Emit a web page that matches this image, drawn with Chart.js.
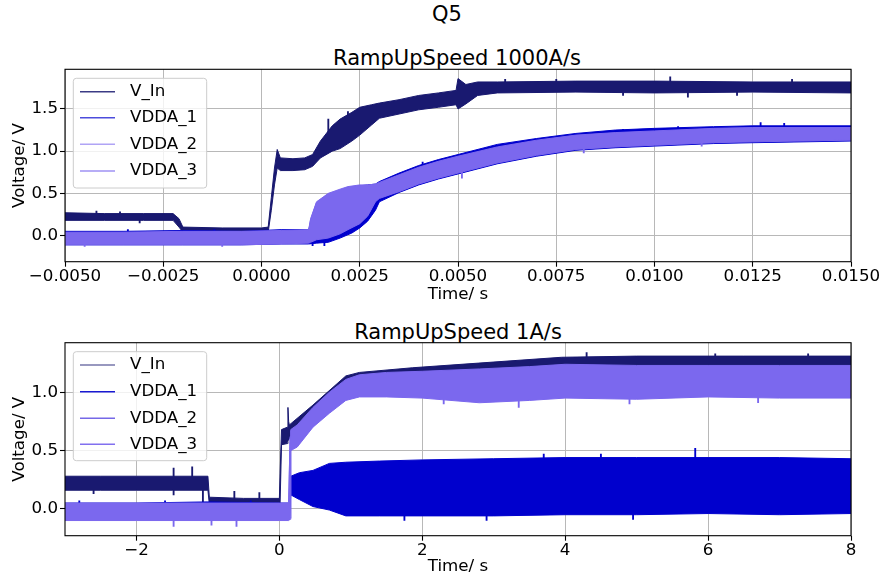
<!DOCTYPE html>
<html>
<head>
<meta charset="utf-8">
<script src="https://cdn.jsdelivr.net/npm/chart.js@4.4.1/dist/chart.umd.min.js"></script>
<style>
  html, body { margin: 0; padding: 0; background: #fff; }
  body { width: 883px; height: 582px; position: relative; overflow: hidden; font-family: 'DejaVu Sans', sans-serif; }
  canvas { position: absolute; left: 0; }
  .ttl { position: absolute; font-size: 21px; line-height: 21px; color: #000; white-space: nowrap; transform: translate(-50%, -50%); }
</style>
</head>
<body>
<div class="ttl" style="left:447px; top:14px;">Q5</div>
<div class="ttl" style="left:457px; top:58px;">RampUpSpeed 1000A/s</div>
<div class="ttl" style="left:458px; top:332px;">RampUpSpeed 1A/s</div>
<canvas id="c1" width="883" height="310" style="top:0px"></canvas>
<canvas id="c2" width="883" height="272" style="top:310px"></canvas>
<script>
// ---------------- DATA ----------------
const seriesNames = ['V_In', 'VDDA_1', 'VDDA_2', 'VDDA_3'];

// Top plot: RampUpSpeed 1000A/s  (time in s, band = lower/upper envelope in V)
const top_vin_t  = [-0.005, -0.004, -0.003, -0.00225, -0.0021, -0.002, -0.001, 0.0, 0.00017, 0.00025, 0.00033, 0.0004, 0.00048, 0.0008, 0.0011, 0.0013, 0.0015, 0.0018, 0.002, 0.0023, 0.0025, 0.0028, 0.003, 0.0035, 0.004, 0.0045, 0.00495, 0.005, 0.0052, 0.0055, 0.006, 0.008, 0.01, 0.0125, 0.015];
const top_vin_lo = [0.18, 0.18, 0.18, 0.18, 0.10, 0.04, 0.04, 0.04, 0.04, 0.30, 0.60, 0.80, 0.77, 0.77, 0.78, 0.82, 0.92, 1.00, 1.03, 1.12, 1.19, 1.31, 1.39, 1.44, 1.49, 1.52, 1.55, 1.50, 1.56, 1.66, 1.69, 1.70, 1.69, 1.70, 1.69];
const top_vin_hi = [0.27, 0.26, 0.26, 0.26, 0.20, 0.10, 0.09, 0.09, 0.10, 0.45, 0.80, 1.02, 0.92, 0.91, 0.92, 0.96, 1.12, 1.30, 1.38, 1.46, 1.52, 1.55, 1.57, 1.61, 1.66, 1.69, 1.72, 1.86, 1.79, 1.82, 1.82, 1.83, 1.83, 1.82, 1.82];
const top_vin_spk = [[-0.0042, 0.24, 0.29], [-0.0031, 0.15, 0.20], [-0.0036, 0.23, 0.28], [0.0017, 1.22, 1.38], [0.0022, 1.30, 1.47], [0.0062, 1.79, 1.85], [0.0075, 1.79, 1.85], [0.0104, 1.76, 1.88], [0.01085, 1.64, 1.72], [0.0121, 1.66, 1.72], [0.0135, 1.78, 1.85], [0.0092, 1.66, 1.71]];

const top_v1_t  = [-0.005, -0.0035, -0.002, -0.0005, 0.0005, 0.0012, 0.0014, 0.0017, 0.002, 0.0023, 0.0025, 0.0027, 0.0029, 0.003, 0.0035, 0.004, 0.0045, 0.005, 0.006, 0.007, 0.008, 0.009, 0.01, 0.0115, 0.0125, 0.015];
const top_v1_lo = [-0.11, -0.11, -0.11, -0.11, -0.10, -0.10, -0.09, -0.08, -0.03, 0.03, 0.09, 0.17, 0.30, 0.40, 0.51, 0.60, 0.67, 0.73, 0.85, 0.94, 1.01, 1.04, 1.06, 1.09, 1.10, 1.12];
const top_v1_hi = [0.05, 0.05, 0.06, 0.05, 0.07, 0.07, 0.35, 0.45, 0.52, 0.57, 0.59, 0.60, 0.61, 0.64, 0.74, 0.83, 0.90, 0.96, 1.08, 1.15, 1.21, 1.25, 1.27, 1.29, 1.30, 1.30];
const top_v1_spk = [[-0.0034, 0.03, 0.07], [-0.0012, 0.03, 0.07], [0.0013, -0.12, -0.05], [0.0016, -0.12, -0.05], [0.0041, 0.80, 0.87], [0.0092, 1.22, 1.26], [0.0106, 1.25, 1.29], [0.0127, 1.28, 1.34], [0.0133, 1.28, 1.33]];

const top_v2_t  = [-0.005, -0.0035, -0.002, -0.0005, 0.0005, 0.0012, 0.00125, 0.0014, 0.0017, 0.002, 0.0022, 0.0025, 0.0027, 0.0029, 0.003, 0.0035, 0.004, 0.0045, 0.005, 0.006, 0.007, 0.008, 0.009, 0.01, 0.0115, 0.0125, 0.015];
const top_v2_lo = [-0.10, -0.10, -0.10, -0.10, -0.09, -0.08, -0.07, -0.04, -0.02, 0.03, 0.08, 0.15, 0.24, 0.41, 0.45, 0.53, 0.62, 0.69, 0.75, 0.87, 0.96, 1.03, 1.06, 1.08, 1.11, 1.12, 1.14];
const top_v2_hi = [0.03, 0.03, 0.04, 0.04, 0.05, 0.06, 0.19, 0.39, 0.49, 0.54, 0.57, 0.59, 0.59, 0.60, 0.62, 0.71, 0.80, 0.87, 0.93, 1.04, 1.12, 1.18, 1.21, 1.23, 1.26, 1.27, 1.27];
const top_v2_spk = [];

const top_v3_t  = [-0.005, -0.0035, -0.002, -0.0005, 0.0005, 0.0012, 0.00125, 0.0014, 0.0017, 0.002, 0.0022, 0.0025, 0.0027, 0.0029, 0.003, 0.0035, 0.004, 0.0045, 0.005, 0.006, 0.007, 0.008, 0.009, 0.01, 0.0115, 0.0125, 0.015];
const top_v3_lo = [-0.11, -0.11, -0.11, -0.11, -0.10, -0.09, -0.08, -0.05, -0.03, 0.02, 0.07, 0.14, 0.23, 0.40, 0.44, 0.52, 0.61, 0.68, 0.74, 0.86, 0.95, 1.02, 1.05, 1.07, 1.10, 1.11, 1.13];
const top_v3_hi = [0.04, 0.04, 0.05, 0.05, 0.06, 0.07, 0.20, 0.40, 0.50, 0.55, 0.58, 0.60, 0.60, 0.61, 0.63, 0.72, 0.81, 0.88, 0.94, 1.05, 1.13, 1.19, 1.22, 1.24, 1.27, 1.28, 1.28];
const top_v3_spk = [[-0.0045, -0.13, -0.09], [-0.001, -0.13, -0.09], [0.0051, 0.68, 0.76], [0.0082, 0.98, 1.04], [0.0112, 1.06, 1.12]];

// Bottom plot: RampUpSpeed 1A/s
const bot_vin_t  = [-3, -2.5, -2, -1.5, -1.0, -0.98, -0.5, 0.0, 0.01, 0.03, 0.11, 0.12, 0.13, 0.14, 0.47, 0.93, 1.12, 1.86, 2.79, 3.95, 5.0, 6.5, 8.0];
const bot_vin_lo = [0.16, 0.16, 0.16, 0.16, 0.16, 0.04, 0.04, 0.04, 0.04, 0.55, 0.56, 0.58, 0.60, 0.60, 0.75, 1.00, 1.06, 1.10, 1.14, 1.18, 1.20, 1.20, 1.20];
const bot_vin_hi = [0.28, 0.28, 0.28, 0.28, 0.28, 0.10, 0.09, 0.09, 0.30, 0.68, 0.70, 0.87, 0.75, 0.72, 0.89, 1.14, 1.17, 1.21, 1.25, 1.30, 1.31, 1.31, 1.31];
const bot_vin_spk = [[-2.6, 0.13, 0.20], [-1.48, 0.12, 0.35], [-1.22, 0.20, 0.36], [-1.07, 0.06, 0.20], [-0.63, 0.07, 0.15], [-0.28, 0.07, 0.14], [4.3, 1.28, 1.34], [6.1, 1.28, 1.33], [7.4, 1.28, 1.33]];

const bot_v1_t  = [-3, -2, -1, 0, 0.14, 0.16, 0.28, 0.47, 0.70, 0.93, 1.4, 2.0, 3.0, 4.0, 5.0, 6.0, 7.0, 8.0];
const bot_v1_lo = [-0.09, -0.09, -0.09, -0.09, -0.09, 0.12, 0.08, 0.02, -0.01, -0.06, -0.06, -0.06, -0.06, -0.05, -0.05, -0.04, -0.05, -0.04];
const bot_v1_hi = [0.05, 0.05, 0.06, 0.05, 0.05, 0.28, 0.31, 0.33, 0.39, 0.40, 0.41, 0.42, 0.43, 0.44, 0.44, 0.44, 0.44, 0.43];
const bot_v1_spk = [[-2.8, 0.03, 0.07], [-1.6, 0.03, 0.07], [-0.4, 0.03, 0.07], [2.9, -0.10, -0.05], [3.7, 0.40, 0.47], [4.5, 0.40, 0.47], [5.82, 0.40, 0.52], [1.75, -0.10, -0.05], [4.95, -0.09, -0.04]];

const bot_v2_t  = [-3, -2, -1, 0, 0.13, 0.15, 0.16, 0.25, 0.47, 0.70, 0.93, 1.12, 1.5, 2.0, 2.8, 3.5, 4.0, 5.0, 6.0, 7.0, 8.0];
const bot_v2_lo = [-0.09, -0.09, -0.09, -0.09, -0.09, -0.08, 0.51, 0.54, 0.71, 0.83, 0.94, 0.97, 0.97, 0.96, 0.92, 0.94, 0.96, 0.95, 0.97, 0.96, 0.96];
const bot_v2_hi = [0.04, 0.04, 0.04, 0.04, 0.04, 0.61, 0.67, 0.71, 0.86, 0.99, 1.10, 1.14, 1.16, 1.17, 1.19, 1.21, 1.23, 1.22, 1.22, 1.22, 1.22];
const bot_v2_spk = [];

const bot_v3_t  = [-3, -2, -1, 0, 0.13, 0.15, 0.16, 0.25, 0.47, 0.70, 0.93, 1.12, 1.5, 2.0, 2.8, 3.5, 4.0, 5.0, 6.0, 7.0, 8.0];
const bot_v3_lo = [-0.10, -0.10, -0.10, -0.10, -0.10, -0.09, 0.50, 0.53, 0.70, 0.82, 0.93, 0.96, 0.96, 0.95, 0.91, 0.93, 0.95, 0.94, 0.96, 0.95, 0.95];
const bot_v3_hi = [0.05, 0.05, 0.05, 0.05, 0.05, 0.62, 0.68, 0.72, 0.87, 1.00, 1.11, 1.15, 1.17, 1.18, 1.20, 1.22, 1.24, 1.23, 1.23, 1.23, 1.23];
const bot_v3_spk = [[-1.48, -0.15, -0.08], [-0.95, -0.14, -0.08], [-0.6, -0.15, -0.08], [2.3, 0.90, 0.96], [3.35, 0.87, 0.95], [4.9, 0.90, 0.96], [6.7, 0.91, 0.97]];

// Axis ticks
const topXTicks  = [-0.005, -0.0025, 0, 0.0025, 0.005, 0.0075, 0.01, 0.0125, 0.015];
const topXLabels = ['\u22120.0050', '\u22120.0025', '0.0000', '0.0025', '0.0050', '0.0075', '0.0100', '0.0125', '0.0150'];
const topYTicks  = [0, 0.5, 1.0, 1.5];
const topYLabels = ['0.0', '0.5', '1.0', '1.5'];
const botXTicks  = [-2, 0, 2, 4, 6, 8];
const botXLabels = ['\u22122', '0', '2', '4', '6', '8'];
const botYTicks  = [0, 0.5, 1.0];
const botYLabels = ['0.0', '0.5', '1.0'];

// ---------------- STYLE ----------------
const bandColors = ['#191970', '#0000cd', '#6e60e6', '#7b68ee'];
const topLegendColors = ['rgba(25,25,112,0.85)', 'rgba(0,0,205,0.7)', 'rgba(123,104,238,0.6)', 'rgba(123,104,238,0.72)'];
const botLegendColors = ['rgba(25,25,112,0.6)', 'rgba(0,0,205,0.9)', 'rgba(110,96,230,0.95)', 'rgba(123,104,238,0.95)'];
const FONT = { family: "'DejaVu Sans', sans-serif", size: 16.7 };

function pts(t, v) { return t.map((x, i) => ({ x: x, y: v[i] })); }

function bandDatasets(list) {
  // list: [[t, lo, hi, spikes], ...] in seriesNames order; earlier series drawn underneath
  const ds = [];
  list.forEach((s, k) => {
    const col = bandColors[k];
    const order = 10 - k;
    ds.push({ label: seriesNames[k] + '_lo', data: pts(s[0], s[1]), borderColor: col, backgroundColor: col,
              borderWidth: 1, pointRadius: 0, fill: false, order: order, tension: 0 });
    ds.push({ label: seriesNames[k], data: pts(s[0], s[2]), borderColor: col, backgroundColor: col,
              borderWidth: 1, pointRadius: 0, fill: '-1', order: order, tension: 0 });
    if (s[3].length) {
      ds.push({ type: 'bar', label: seriesNames[k] + '_spk', data: s[3].map(p => ({ x: p[0], y: [p[1], p[2]] })),
                backgroundColor: col, borderWidth: 0, barThickness: 1.2, grouped: false, order: order });
    }
  });
  return ds;
}

const framePlugin = {
  id: 'frame',
  afterDatasetsDraw(chart) {
    const { ctx, chartArea: a } = chart;
    ctx.save();
    ctx.strokeStyle = '#000';
    ctx.lineWidth = 1.1;
    ctx.strokeRect(a.left, a.top, a.right - a.left, a.bottom - a.top);
    ctx.restore();
  }
};

const boxLegendPlugin = {
  id: 'boxLegend',
  afterDraw(chart, args, o) {
    const ctx = chart.ctx;
    ctx.save();
    const x = o.x0, y = o.y0, w = o.x1 - o.x0, h = o.y1 - o.y0, r = 3;
    ctx.beginPath();
    ctx.moveTo(x + r, y);
    ctx.lineTo(x + w - r, y); ctx.quadraticCurveTo(x + w, y, x + w, y + r);
    ctx.lineTo(x + w, y + h - r); ctx.quadraticCurveTo(x + w, y + h, x + w - r, y + h);
    ctx.lineTo(x + r, y + h); ctx.quadraticCurveTo(x, y + h, x, y + h - r);
    ctx.lineTo(x, y + r); ctx.quadraticCurveTo(x, y, x + r, y);
    ctx.closePath();
    ctx.fillStyle = 'rgba(255,255,255,0.8)';
    ctx.fill();
    ctx.strokeStyle = '#cccccc';
    ctx.lineWidth = 1;
    ctx.stroke();
    ctx.font = FONT.size + "px 'DejaVu Sans', sans-serif";
    ctx.textBaseline = 'middle';
    ctx.textAlign = 'left';
    for (let i = 0; i < o.names.length; i++) {
      const yy = o.rows[i];
      ctx.strokeStyle = o.colors[i];
      ctx.lineWidth = 1.5;
      ctx.beginPath();
      ctx.moveTo(o.lx0, yy); ctx.lineTo(o.lx1, yy);
      ctx.stroke();
      ctx.fillStyle = '#000';
      ctx.fillText(o.names[i], o.tx, yy);
    }
    ctx.restore();
  }
};

function makeChart(id, cfg) {
  const H = document.getElementById(id).height;
  const gridCfg = { color: '#b8b8b8', lineWidth: 1, tickColor: '#000', tickLength: 5, tickWidth: 1.1, drawTicks: true, offset: false };
  return new Chart(document.getElementById(id), {
    type: 'line',
    data: { datasets: bandDatasets(cfg.series) },
    options: {
      responsive: false,
      animation: false,
      events: [],
      layout: { padding: { left: 0, right: 32, top: cfg.areaTop, bottom: 0 } },
      scales: {
        x: {
          type: 'linear', min: cfg.xmin, max: cfg.xmax, offset: false,
          afterBuildTicks: s => { s.ticks = cfg.xTicks.map(v => ({ value: v })); },
          afterFit: s => { s.height = H - cfg.areaBottom; },
          ticks: { callback: (v, i) => cfg.xLabels[i], font: FONT, color: '#000', padding: 0, maxRotation: 0, autoSkip: false },
          grid: gridCfg,
          border: { display: false },
          title: { display: true, text: 'Time/ s', font: FONT, color: '#000', padding: { top: 0, bottom: 5.3 } }
        },
        y: {
          type: 'linear', min: cfg.ymin, max: cfg.ymax, offset: false,
          afterBuildTicks: s => { s.ticks = cfg.yTicks.map(v => ({ value: v })); },
          afterFit: s => { s.width = 65; },
          ticks: { callback: (v, i) => cfg.yLabels[i], font: FONT, color: '#000', padding: 2, autoSkip: false },
          grid: gridCfg,
          border: { display: false },
          title: { display: true, text: 'Voltage/ V', font: FONT, color: '#000', padding: { top: 10, bottom: 0 } }
        }
      },
      plugins: {
        legend: { display: false },
        tooltip: { enabled: false },
        boxLegend: cfg.legend
      }
    },
    plugins: [framePlugin, boxLegendPlugin]
  });
}

makeChart('c1', {
  series: [[top_vin_t, top_vin_lo, top_vin_hi, top_vin_spk], [top_v1_t, top_v1_lo, top_v1_hi, top_v1_spk],
           [top_v2_t, top_v2_lo, top_v2_hi, top_v2_spk], [top_v3_t, top_v3_lo, top_v3_hi, top_v3_spk]],
  xmin: -0.005, xmax: 0.015, ymin: -0.31, ymax: 1.97,
  xTicks: topXTicks, xLabels: topXLabels, yTicks: topYTicks, yLabels: topYLabels,
  areaTop: 69.3, areaBottom: 261.7,
  legend: { x0: 73.3, y0: 78.3, x1: 206.7, y1: 188, rows: [91.7, 117.7, 144.3, 171], lx0: 80, lx1: 115, tx: 130,
            names: seriesNames, colors: topLegendColors }
});

makeChart('c2', {
  series: [[bot_vin_t, bot_vin_lo, bot_vin_hi, bot_vin_spk], [bot_v1_t, bot_v1_lo, bot_v1_hi, bot_v1_spk],
           [bot_v2_t, bot_v2_lo, bot_v2_hi, bot_v2_spk], [bot_v3_t, bot_v3_lo, bot_v3_hi, bot_v3_spk]],
  xmin: -3, xmax: 8, ymin: -0.23, ymax: 1.425,
  xTicks: botXTicks, xLabels: botXLabels, yTicks: botYTicks, yLabels: botYLabels,
  areaTop: 32.7, areaBottom: 225.7,
  legend: { x0: 73.3, y0: 41.7, x1: 206.7, y1: 150.7, rows: [55, 81.7, 108.3, 134.3], lx0: 80, lx1: 115, tx: 130,
            names: seriesNames, colors: botLegendColors }
});
</script>
</body>
</html>
